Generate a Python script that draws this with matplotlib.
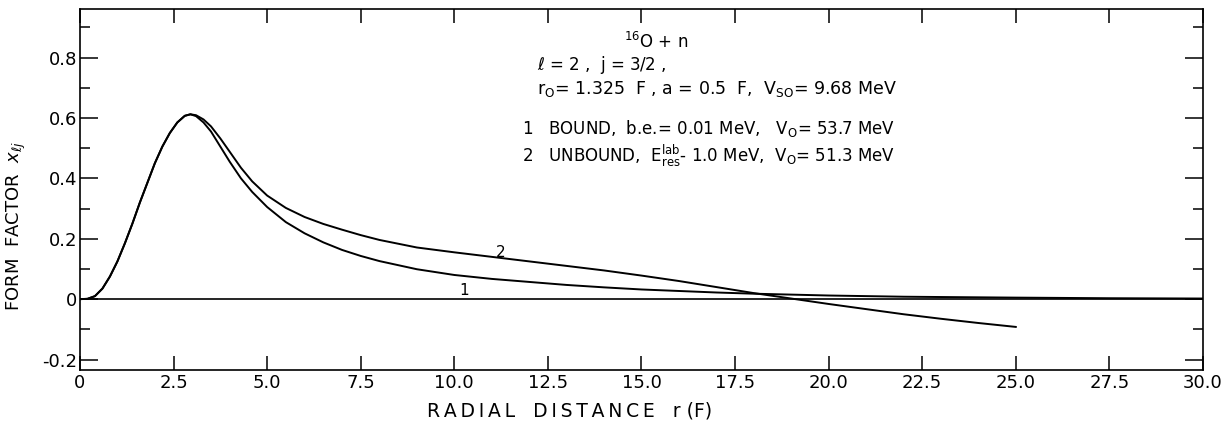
import matplotlib
matplotlib.use("Agg")
import matplotlib.pyplot as plt
from matplotlib.ticker import FixedLocator

plt.rcParams['font.family'] = ['DejaVu Sans']
plt.rcParams['mathtext.fontset'] = 'dejavusans'

# Curve 1: bound state (b.e. = 0.01 MeV)
r1 = [0.0, 0.2, 0.4, 0.6, 0.8, 1.0, 1.2, 1.4, 1.6, 1.8, 2.0, 2.2, 2.4, 2.6, 2.8, 2.95, 3.1, 3.3,
      3.5, 3.75, 4.0, 4.3, 4.6, 5.0, 5.5, 6.0, 6.5, 7.0, 7.5, 8.0, 9.0, 10.0, 11.0, 12.0, 13.0,
      14.0, 15.0, 16.0, 17.0, 18.0, 20.0, 22.0, 25.0, 27.5, 30.0]
v1 = [0.0, 0.001, 0.01, 0.035, 0.075, 0.125, 0.185, 0.25, 0.32, 0.385, 0.45, 0.505, 0.55, 0.585,
      0.607, 0.612, 0.606, 0.585, 0.555, 0.505, 0.455, 0.4, 0.355, 0.305, 0.255, 0.218, 0.188,
      0.163, 0.143, 0.126, 0.099, 0.08, 0.067, 0.057, 0.047, 0.039, 0.032, 0.027, 0.022, 0.018,
      0.012, 0.008, 0.005, 0.003, 0.002]

# Curve 2: unbound resonance (E_res^lab ~ 1.0 MeV)
r2 = [0.0, 0.2, 0.4, 0.6, 0.8, 1.0, 1.2, 1.4, 1.6, 1.8, 2.0, 2.2, 2.4, 2.6, 2.8, 2.95, 3.1, 3.3,
      3.5, 3.75, 4.0, 4.3, 4.6, 5.0, 5.5, 6.0, 6.5, 7.0, 7.5, 8.0, 9.0, 10.0, 11.0, 12.0, 13.0,
      14.0, 15.0, 16.0, 17.0, 18.0, 19.0, 20.0, 21.0, 22.0, 23.0, 24.0, 25.0]
v2 = [0.0, 0.001, 0.01, 0.035, 0.075, 0.125, 0.185, 0.25, 0.32, 0.385, 0.45, 0.505, 0.55, 0.585,
      0.607, 0.612, 0.609, 0.595, 0.572, 0.532, 0.488, 0.435, 0.39, 0.343, 0.302, 0.272, 0.249,
      0.23, 0.212, 0.196, 0.171, 0.155, 0.14, 0.125, 0.11, 0.095, 0.078, 0.06, 0.04, 0.02,
      0.002, -0.016, -0.033, -0.05, -0.065, -0.079, -0.092]

xticks = [0, 2.5, 5.0, 7.5, 10.0, 12.5, 15.0, 17.5, 20.0, 22.5, 25.0, 27.5, 30.0]
xticklabels = ["0", "2.5", "5.0", "7.5", "10.0", "12.5", "15.0", "17.5", "20.0", "22.5", "25.0",
               "27.5", "30.0"]
yticks = [-0.2, 0.0, 0.2, 0.4, 0.6, 0.8]
yticklabels = ["-0.2", "0", "0.2", "0.4", "0.6", "0.8"]
yminor = [-0.1, 0.1, 0.3, 0.5, 0.7, 0.9]


def spaced(s):
    return "\u2009".join(s)


fig = plt.figure(figsize=(12.23, 4.38), dpi=100)
ax = fig.add_axes([0.0654, 0.155, 0.9182, 0.824])

ax.plot(r1, v1, color='black', lw=1.4)
ax.plot(r2, v2, color='black', lw=1.4)
ax.axhline(0, color='black', lw=1.2)

ax.set_xlim(0, 30)
ax.set_ylim(-0.235, 0.96)

ax.xaxis.set_major_locator(FixedLocator(xticks))
ax.set_xticklabels(xticklabels)
ax.yaxis.set_major_locator(FixedLocator(yticks))
ax.set_yticklabels(yticklabels)
ax.yaxis.set_minor_locator(FixedLocator(yminor))

ax.tick_params(axis='x', which='major', direction='in', length=10, width=1.1, top=True,
               labelsize=13, pad=3)
ax.tick_params(axis='y', which='major', direction='in', length=13, width=1.1, right=True,
               labelsize=13, pad=2)
ax.tick_params(axis='y', which='minor', direction='in', length=7, width=1.1, right=True)
for s in ax.spines.values():
    s.set_linewidth(1.2)

ax.set_xlabel(spaced("RADIAL") + "   " + spaced("DISTANCE") + "   r (F)", fontsize=13.5)
ax.xaxis.set_label_coords(0.436, -0.088)
ax.set_ylabel(r"FORM  FACTOR  $x_{\ell j}$", fontsize=13)
ax.yaxis.set_label_coords(-0.046, 0.40)

# curve labels
ax.text(11.25, 0.155, "2", fontsize=11, ha='center', va='center')
ax.text(10.25, 0.03, "1", fontsize=11, ha='center', va='center')

# annotation block
ax.text(15.4, 0.85, r"$^{16}$O + n", fontsize=12, ha='center', va='center')
ax.text(12.2, 0.775, r"$\ell$ = 2 ,  j = 3/2 ,", fontsize=12, ha='left', va='center')
ax.text(12.2, 0.695, r"r$_{\rm O}$= 1.325  F , a = 0.5  F,  V$_{\rm SO}$= 9.68 MeV",
        fontsize=12.5, ha='left', va='center')
ax.text(11.8, 0.565, r"1   BOUND,  b.e.= 0.01 MeV,   V$_{\rm O}$= 53.7 MeV", fontsize=12,
        ha='left', va='center')
ax.text(11.8, 0.475, r"2   UNBOUND,  E$_{\rm res}^{\rm lab}$- 1.0 MeV,  V$_{\rm O}$= 51.3 MeV",
        fontsize=12, ha='left', va='center')

fig.savefig("out.png", dpi=100)
